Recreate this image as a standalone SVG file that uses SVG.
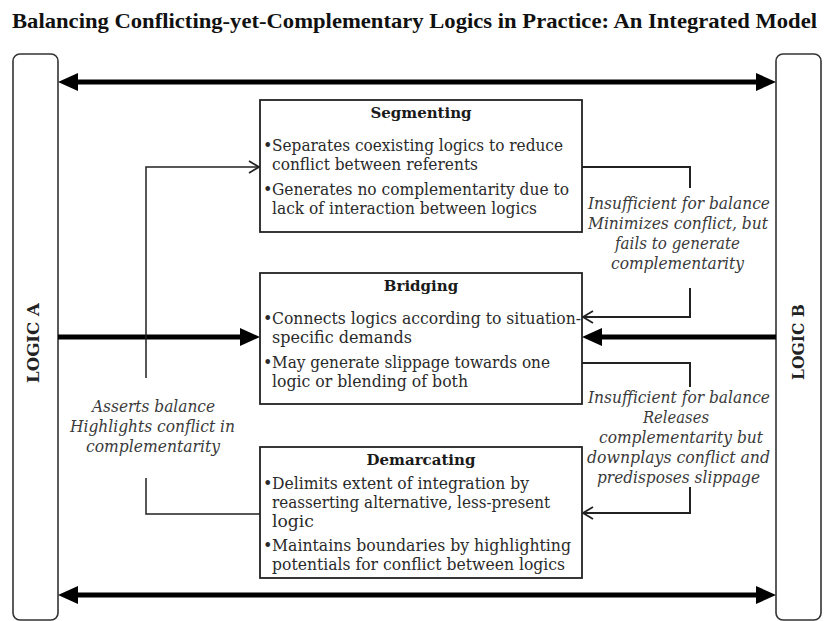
<svg xmlns="http://www.w3.org/2000/svg" width="825" height="621" viewBox="0 0 825 621">
<style>
.title{font-family:"Liberation Serif",serif;font-weight:bold;font-size:22px;fill:#111}
.logic{font-family:"DejaVu Serif",serif;font-weight:bold;font-size:16px;fill:#222}
.bt{font-family:"DejaVu Serif",serif;font-weight:bold;font-size:15px;fill:#1a1a1a;text-anchor:middle}
.tx{font-family:"DejaVu Serif",serif;font-size:16px;fill:#2a2a2a}
.it{font-family:"DejaVu Serif",serif;font-style:italic;font-size:16px;fill:#3a3a3a;text-anchor:middle}
.box{fill:#fff;stroke:#222;stroke-width:1.8}
.lbox{fill:#fff;stroke:#333;stroke-width:1.6}
.thick{fill:none;stroke:#000;stroke-width:5}
.thin{fill:none;stroke:#222;stroke-width:1.5}
.med{fill:none;stroke:#222;stroke-width:2}
</style>
<defs>
<marker id="head" markerUnits="userSpaceOnUse" markerWidth="20" markerHeight="18" refX="2" refY="9" orient="auto-start-reverse" viewBox="0 0 20 18">
<path d="M0,0 L20,9 L0,18 z" fill="#000"/>
</marker>
<marker id="chev" markerUnits="userSpaceOnUse" markerWidth="14" markerHeight="16" refX="11" refY="7" orient="auto" viewBox="0 0 14 14">
<path d="M1,1 L11,7 L1,13" fill="none" stroke="#222" stroke-width="1.8"/>
</marker>
</defs>
<rect width="825" height="621" fill="#fff"/>
<text class="title" x="12" y="28" textLength="805" lengthAdjust="spacingAndGlyphs">Balancing Conflicting-yet-Complementary Logics in Practice: An Integrated Model</text>

<g id="logicA">
<rect class="lbox" x="13" y="54" width="45" height="566" rx="7"/>
<text class="logic" transform="translate(39,343) rotate(-90)" text-anchor="middle" textLength="80" lengthAdjust="spacingAndGlyphs">LOGIC A</text>
</g>
<g id="logicB">
<rect class="lbox" x="776" y="54" width="45" height="566" rx="7"/>
<text class="logic" transform="translate(804,342) rotate(-90)" text-anchor="middle" textLength="76" lengthAdjust="spacingAndGlyphs">LOGIC B</text>
</g>

<g id="connectors">
<path class="thick" d="M76,82 H758" marker-start="url(#head)" marker-end="url(#head)"/>
<path class="thick" d="M76,595 H758" marker-start="url(#head)" marker-end="url(#head)"/>
<path class="thick" d="M58,337 H242" marker-end="url(#head)"/>
<path class="thick" d="M776,337 H600" marker-end="url(#head)"/>
<path class="thin" d="M146,378 V167 H259" marker-end="url(#chev)"/>
<path class="thin" d="M146,478 V514 H260"/>
<path class="med" d="M582,167 H690 V188"/>
<path class="med" d="M690,288 V317 H583" marker-end="url(#chev)"/>
<path class="med" d="M582,363 H690 V387"/>
<path class="med" d="M690,487 V513 H583" marker-end="url(#chev)"/>
</g>

<g id="segmenting">
<rect class="box" x="260" y="100" width="322" height="132"/>
<text class="bt" x="421" y="118">Segmenting</text>
<text class="tx" x="263" y="151">•</text>
<text class="tx" x="272" y="151" textLength="291" lengthAdjust="spacingAndGlyphs">Separates coexisting logics to reduce</text>
<text class="tx" x="272" y="170" textLength="206" lengthAdjust="spacingAndGlyphs">conflict between referents</text>
<text class="tx" x="263" y="195">•</text>
<text class="tx" x="272" y="195" textLength="297" lengthAdjust="spacingAndGlyphs">Generates no complementarity due to</text>
<text class="tx" x="272" y="214" textLength="265" lengthAdjust="spacingAndGlyphs">lack of interaction between logics</text>
</g>

<g id="bridging">
<rect class="box" x="260" y="273" width="322" height="131"/>
<text class="bt" x="421" y="291">Bridging</text>
<text class="tx" x="263" y="324">•</text>
<text class="tx" x="272" y="324" textLength="309" lengthAdjust="spacingAndGlyphs">Connects logics according to situation-</text>
<text class="tx" x="272" y="343" textLength="140" lengthAdjust="spacingAndGlyphs">specific demands</text>
<text class="tx" x="263" y="368">•</text>
<text class="tx" x="272" y="368" textLength="278" lengthAdjust="spacingAndGlyphs">May generate slippage towards one</text>
<text class="tx" x="272" y="387" textLength="196" lengthAdjust="spacingAndGlyphs">logic or blending of both</text>
</g>

<g id="demarcating">
<rect class="box" x="260" y="447" width="322" height="131"/>
<text class="bt" x="421" y="465">Demarcating</text>
<text class="tx" x="263" y="489">•</text>
<text class="tx" x="272" y="489" textLength="257" lengthAdjust="spacingAndGlyphs">Delimits extent of integration by</text>
<text class="tx" x="272" y="508" textLength="278" lengthAdjust="spacingAndGlyphs">reasserting alternative, less-present</text>
<text class="tx" x="272" y="527" textLength="42" lengthAdjust="spacingAndGlyphs">logic</text>
<text class="tx" x="263" y="551">•</text>
<text class="tx" x="272" y="551" textLength="299" lengthAdjust="spacingAndGlyphs">Maintains boundaries by highlighting</text>
<text class="tx" x="272" y="570" textLength="293" lengthAdjust="spacingAndGlyphs">potentials for conflict between logics</text>
</g>

<g id="label-asserts">
<text class="it" x="153.5" y="412" textLength="123" lengthAdjust="spacingAndGlyphs">Asserts balance</text>
<text class="it" x="152.5" y="432" textLength="165" lengthAdjust="spacingAndGlyphs">Highlights conflict in</text>
<text class="it" x="153" y="452" textLength="134" lengthAdjust="spacingAndGlyphs">complementarity</text>
</g>
<g id="label-insufficient-1">
<text class="it" x="679" y="209" textLength="182" lengthAdjust="spacingAndGlyphs">Insufficient for balance</text>
<text class="it" x="678" y="229" textLength="180" lengthAdjust="spacingAndGlyphs">Minimizes conflict, but</text>
<text class="it" x="677.5" y="249" textLength="125" lengthAdjust="spacingAndGlyphs">fails to generate</text>
<text class="it" x="677.5" y="269" textLength="133" lengthAdjust="spacingAndGlyphs">complementarity</text>
</g>
<g id="label-insufficient-2">
<text class="it" x="679" y="403" textLength="182" lengthAdjust="spacingAndGlyphs">Insufficient for balance</text>
<text class="it" x="676" y="423" textLength="66" lengthAdjust="spacingAndGlyphs">Releases</text>
<text class="it" x="681" y="443" textLength="164" lengthAdjust="spacingAndGlyphs">complementarity but</text>
<text class="it" x="678.5" y="463" textLength="183" lengthAdjust="spacingAndGlyphs">downplays conflict and</text>
<text class="it" x="678.5" y="483" textLength="163" lengthAdjust="spacingAndGlyphs">predisposes slippage</text>
</g>
</svg>
